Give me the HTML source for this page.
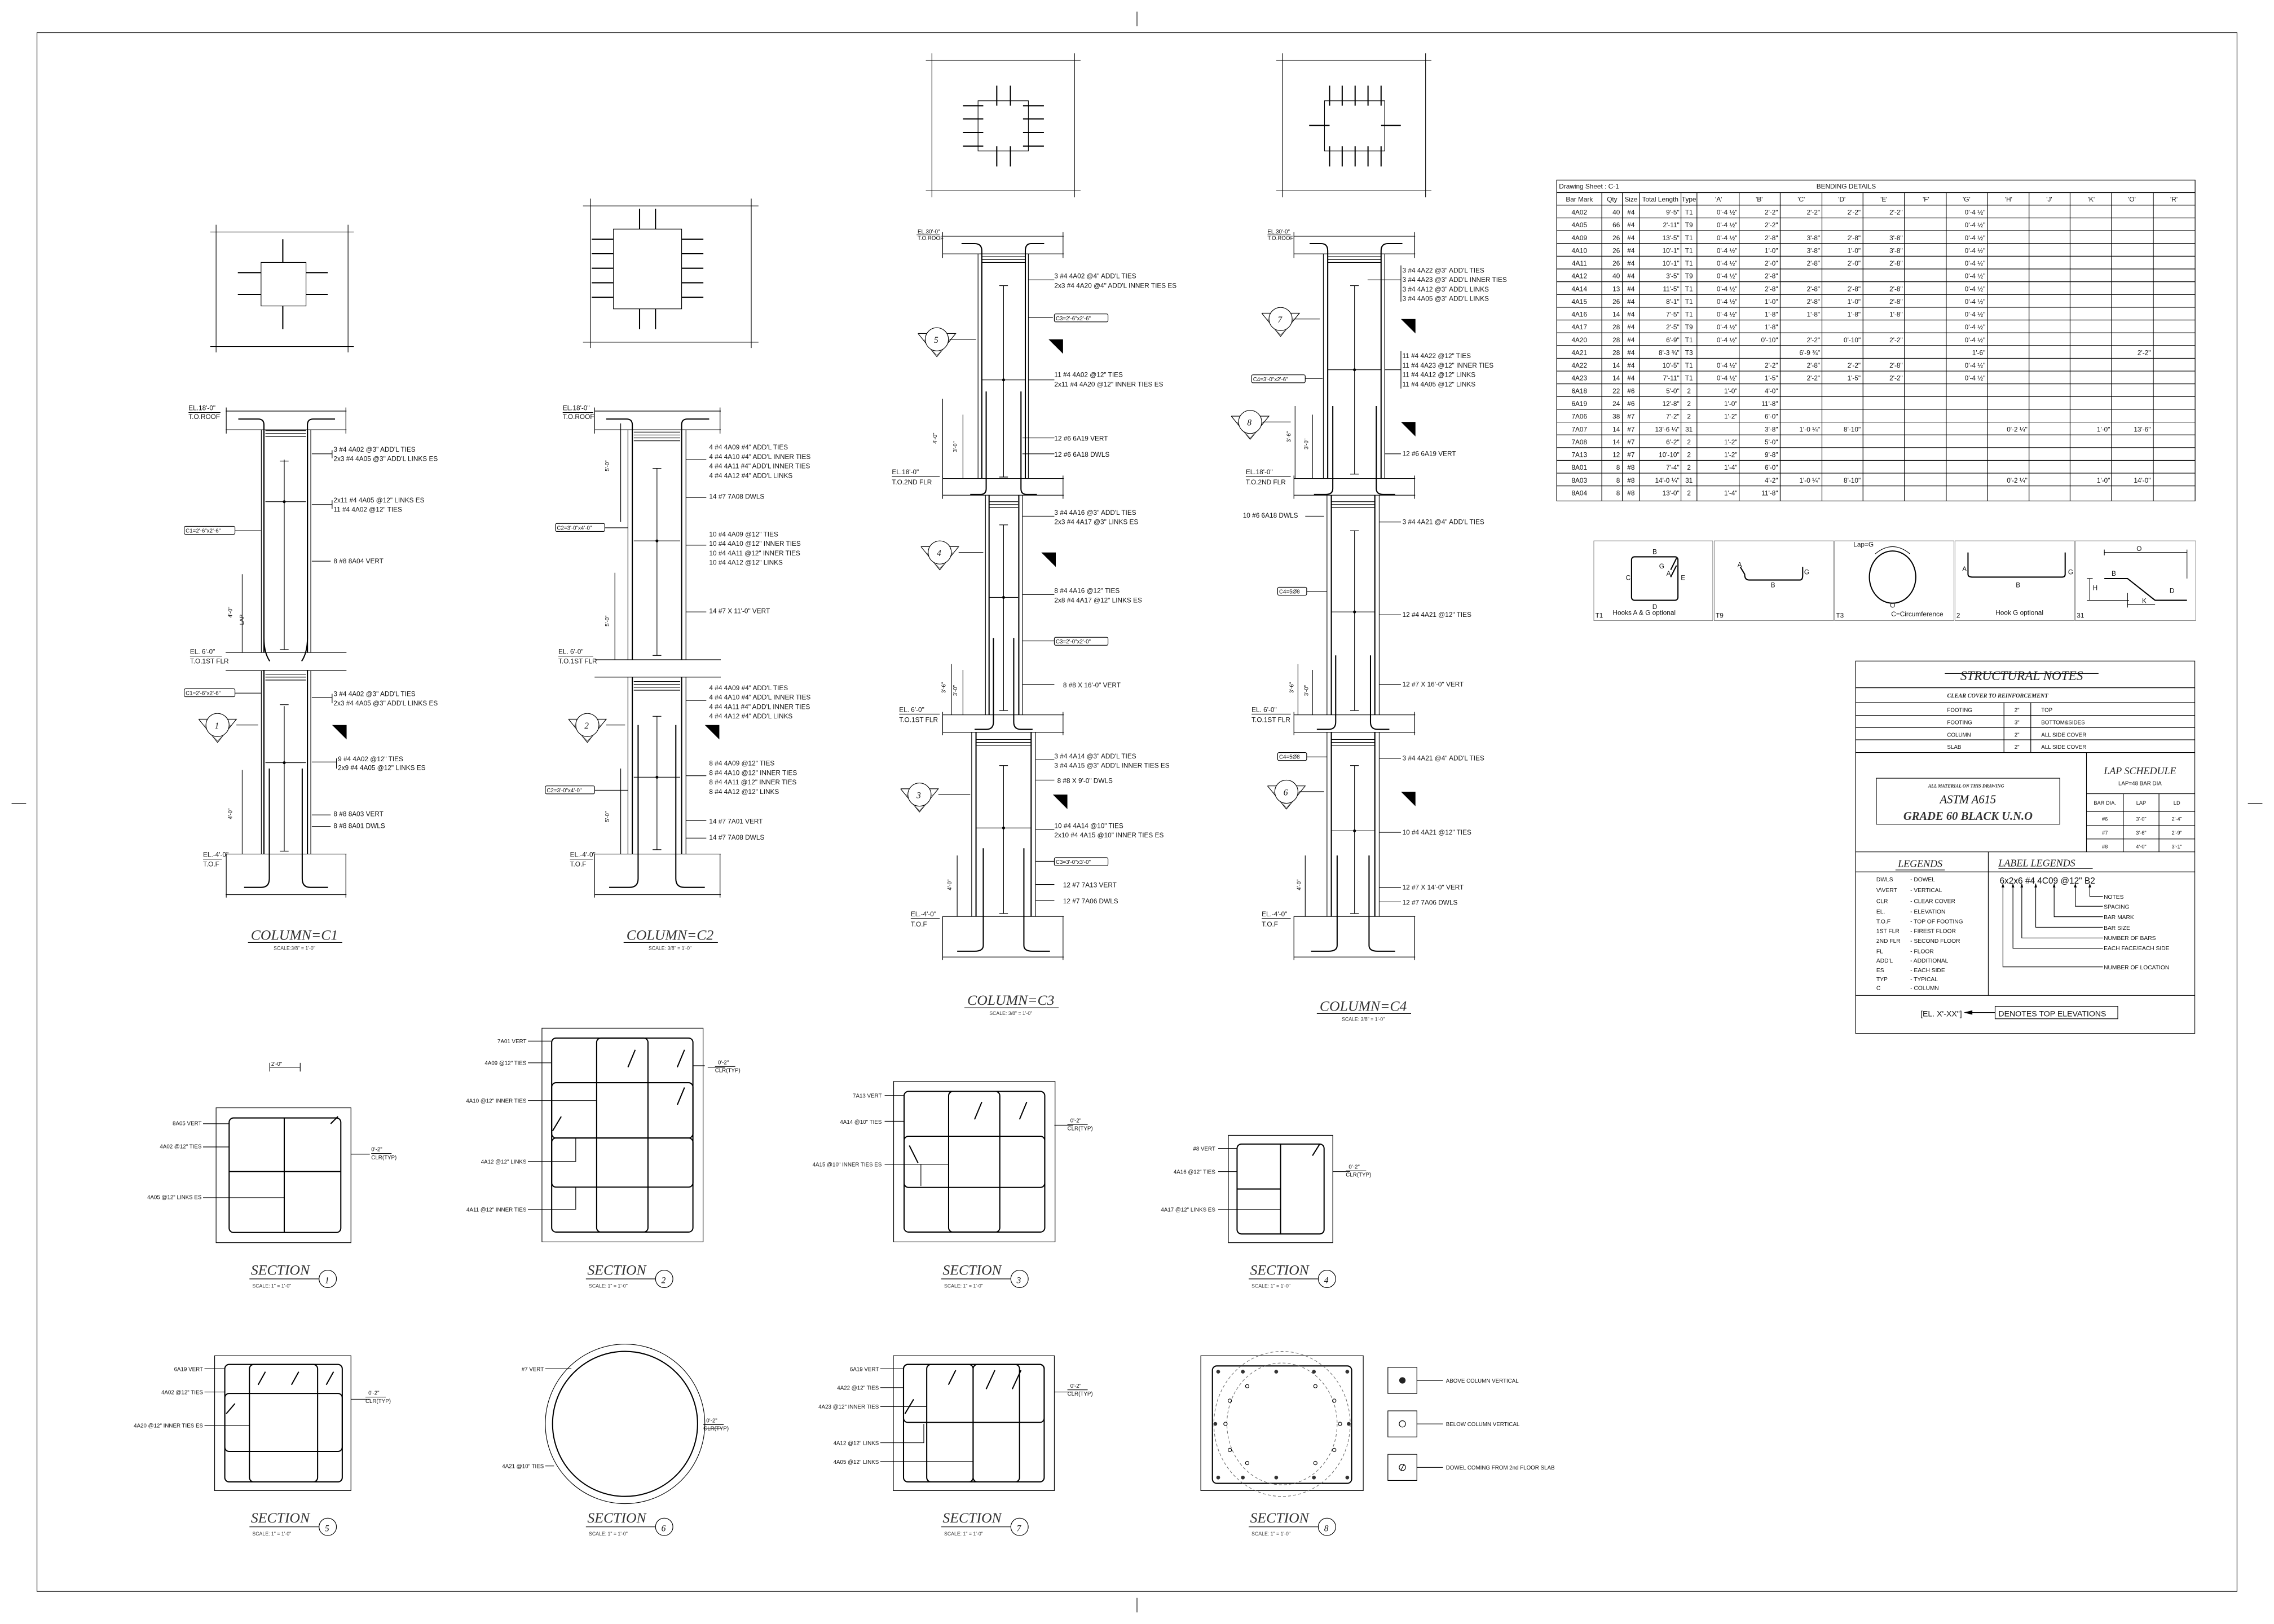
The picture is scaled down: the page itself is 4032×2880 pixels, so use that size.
<!DOCTYPE html>
<html><head><meta charset="utf-8">
<style>
html,body{margin:0;padding:0;background:#fff}
svg{display:block}
.l{stroke:#000;fill:none;stroke-width:.45}
.m{stroke:#000;fill:none;stroke-width:.8}
.h{stroke:#000;fill:none;stroke-width:1.2}
.g{stroke:#777;fill:none;stroke-width:.35}
.d{stroke:#666;fill:none;stroke-width:.4;stroke-dasharray:2 1.5}
text{font-family:"Liberation Sans",sans-serif;font-size:4.6px;fill:#111}
.s{font-size:3.8px}
.tt{font-family:"Liberation Serif",serif;font-style:italic;font-size:10px;fill:#333}
.st{font-size:3.4px;fill:#333}
.tb{font-family:"Liberation Sans Narrow","Liberation Sans",sans-serif;font-size:4.1px;fill:#222}
.sn{font-family:"Liberation Serif",serif;font-style:italic;font-weight:bold;fill:#222}
.n{font-family:"Liberation Serif",serif;font-style:italic;font-size:6px}
</style></head><body>
<svg width="4032" height="2880" viewBox="0 0 1568 1120" xmlns="http://www.w3.org/2000/svg">
<defs>
<g id="mk"><path class="l" d="M-13,-4 L-7,-4 M7,-4 L13,-4 L0,12 L-13,-4"/><path class="g" d="M-9,0 L-4,6 M9,0 L4,6 M-5,6 L0,11 L5,6"/><circle cx="0" cy="0" r="8" style="fill:#fff;stroke:#000;stroke-width:.45"/></g>
<polygon id="ft" points="0,0 10,0 10,10" fill="#000"/>
</defs>

<!-- border -->
<rect x="25.5" y="22.5" width="1517" height="1075" class="l"/>
<path class="l" d="M784,8V18 M784,1102V1112 M8,554H18 M1550,554H1560"/>

<!-- ===== C1 PLAN ===== -->
<path class="l" d="M145,160H244 M145,239H244 M149,155V243 M240,155V243"/>
<rect x="180" y="181" width="31" height="30" class="l"/>
<path class="m" d="M164,188H180 M164,203H180 M211,188H226 M211,203H226 M195,165V181 M195,211V227"/>
<!-- C1 ELEVATION -->
<path class="l" d="M155.6,283.5H238.9 M155.6,296.4H238.9 M156,281V299 M238.5,281V299"/>
<path class="m" d="M164.3,289H178Q182,289 182,293V450 M231,289H216Q212,289 212,293V450"/>
<path class="l" d="M180.2,296.4V450 M214.3,296.4V450 M180.2,462.5V589 M214.3,462.5V589"/>
<path class="l" d="M155.6,450H238.9 M155.6,462.5H238.9"/>
<path class="m" d="M182,462V589 M212,462V589 M182,297V440 Q182,450 186,456 M212,297V440Q212,450 208,456"/>
<path class="l" d="M183,297H211 M183,299H211 M183,301H211 M183,346H211 M183,465H211 M183,467H211 M183,469H211 M183,526H211"/>
<circle cx="196" cy="346" r="1" fill="#000"/><circle cx="196" cy="526" r="1" fill="#000"/>
<path class="l" d="M196,317V448 M193,318H199 M193,448H199 M196,487V587 M193,486H199 M193,587H199"/>
<path class="l" d="M155.6,589H238.9 M155.6,617H238.9 M156,589V619 M238.5,589V619"/>
<path class="m" d="M185.7,530V606Q185.7,612 180,612H168.3 M208.4,530V606Q208.4,612 214,612H226.2"/>
<path class="l" d="M167,396V450 M167,531V589"/>
<text x="160" y="426" transform="rotate(-90 160 426)" class="s">4'-0"</text><text x="163" y="426" transform="rotate(-90 168 426)" class="s">LAP</text>
<text x="160" y="565" transform="rotate(-90 160 565)" class="s">4'-0"</text>
<text x="130" y="283">EL.18'-0"</text><path class="l" d="M130,284.5H152"/><text x="130" y="289">T.O.ROOF</text>
<text x="131" y="451">EL. 6'-0"</text><path class="l" d="M131,452.5H153"/><text x="131" y="457.5">T.O.1ST FLR</text>
<text x="140" y="591">EL.-4'-0"</text><path class="l" d="M140,592.5H153"/><text x="140" y="597.5">T.O.F</text>
<rect x="127" y="363" width="35" height="5.5" class="l" rx="1"/><text x="128" y="367.3" class="s">C1=2'-6"x2'-6"</text><path class="l" d="M162,366H180"/>
<rect x="127" y="475" width="35" height="5.5" class="l" rx="1"/><text x="128" y="479.3" class="s">C1=2'-6"x2'-6"</text><path class="l" d="M162,478H180"/>
<use href="#mk" x="150" y="500"/><text x="148" y="502.5" class="n">1</text><path class="l" d="M163,500H178"/>
<use href="#ft" x="229" y="500"/>
<path class="l" d="M229,310.5V316 M215,313H229 M229,345V351 M215,348H229 M215,387H228 M229,478.5V485 M215,481H229 M232,523V530 M215,525.5H232 M215,562H228 M215,570H228"/>
<text x="230" y="311.5">3 #4 4A02 @3" ADD'L TIES</text><text x="230" y="318">2x3 #4 4A05 @3" ADD'L LINKS ES</text>
<text x="230" y="346.5">2x11 #4 4A05 @12" LINKS ES</text><text x="230" y="353">11 #4 4A02 @12" TIES</text>
<text x="230" y="388.5">8 #8 8A04  VERT</text>
<text x="230" y="480">3 #4 4A02 @3" ADD'L TIES</text><text x="230" y="486.5">2x3 #4 4A05 @3" ADD'L LINKS ES</text>
<text x="233" y="525">9 #4 4A02 @12" TIES</text><text x="233" y="531">2x9 #4 4A05 @12" LINKS ES</text>
<text x="230" y="563">8 #8 8A03  VERT</text><text x="230" y="571">8 #8 8A01  DWLS</text>
<text x="203" y="648" class="tt" text-anchor="middle">COLUMN=C1</text><path class="l" d="M171,650H236"/>
<text x="203" y="655" class="st" text-anchor="middle">SCALE:3/8" = 1'-0"</text>

<!-- ===== C2 PLAN ===== -->
<path class="l" d="M402,142H523 M402,236H523 M407,137V240 M518,137V240"/>
<rect x="423" y="158" width="47" height="55" class="l"/>
<path class="m" d="M408,165H423 M408,175H423 M408,185H423 M408,195H423 M408,205H423 M470,165H485 M470,175H485 M470,185H485 M470,195H485 M470,205H485 M441,144V158 M452,144V158 M441,213V227 M452,213V227"/>
<!-- C2 ELEVATION -->
<path class="l" d="M410,283.5H497 M410,296.4H497 M410,281V299 M496.5,281V299"/>
<path class="m" d="M418,289H432Q436,289 436,293V455 M489,289H474Q470,289 470,293V455"/>
<path class="l" d="M433,296.4V455 M473,296.4V455 M433,467V589 M473,467V589 M410,455H497 M410,467H497"/>
<path class="m" d="M436,467V589 M470,467V589"/>
<path class="l" d="M437,298H469 M437,300H469 M437,302H469 M437,304H469 M437,373H469 M437,470H469 M437,472H469 M437,474H469 M437,476H469 M437,536H469"/>
<circle cx="453" cy="373" r="1" fill="#000"/><circle cx="453" cy="536" r="1" fill="#000"/>
<path class="l" d="M453,323V452 M450,323H456 M450,452H456 M453,494V586 M450,494H456 M450,586H456"/>
<path class="l" d="M410,589H497 M410,617H497 M410,589V619 M496.5,589V619"/>
<path class="m" d="M440,500V606Q440,612 434,612H420 M466,500V606Q466,612 472,612H486"/>
<path class="l" d="M428,292V360 M424,395V455 M428,530V589"/>
<text x="420" y="325" transform="rotate(-90 420 325)" class="s">5'-0"</text>
<text x="420" y="432" transform="rotate(-90 420 432)" class="s">5'-0"</text>
<text x="420" y="567" transform="rotate(-90 420 567)" class="s">5'-0"</text>
<text x="388" y="283">EL.18'-0"</text><path class="l" d="M388,284.5H409"/><text x="388" y="289">T.O.ROOF</text>
<text x="385" y="451">EL. 6'-0"</text><path class="l" d="M385,452.5H409"/><text x="385" y="457.5">T.O.1ST FLR</text>
<text x="393" y="591">EL.-4'-0"</text><path class="l" d="M393,592.5H409"/><text x="393" y="597.5">T.O.F</text>
<rect x="383" y="361" width="34" height="5.5" class="l" rx="1"/><text x="384" y="365.3" class="s">C2=3'-0"x4'-0"</text><path class="l" d="M417,364H433"/>
<rect x="376" y="542" width="34" height="5.5" class="l" rx="1"/><text x="377" y="546.3" class="s">C2=3'-0"x4'-0"</text><path class="l" d="M410,545H433"/>
<use href="#mk" x="405" y="500"/><text x="403" y="502.5" class="n">2</text><path class="l" d="M418,500H431"/>
<use href="#ft" x="486" y="500"/>
<path class="l" d="M473,317H487 M473,376H487 M473,343H487 M473,422H487 M473,483H487 M473,535H487 M473,566H487 M473,578H487"/>
<text x="489" y="310">4 #4 4A09 #4" ADD'L TIES</text><text x="489" y="316.5">4 #4 4A10 #4" ADD'L INNER TIES</text><text x="489" y="323">4 #4 4A11 #4" ADD'L INNER TIES</text><text x="489" y="329.5">4 #4 4A12 #4" ADD'L LINKS</text>
<text x="489" y="344">14 #7 7A08  DWLS</text>
<text x="489" y="370">10 #4 4A09 @12" TIES</text><text x="489" y="376.5">10 #4 4A10 @12" INNER TIES</text><text x="489" y="383">10 #4 4A11 @12" INNER TIES</text><text x="489" y="389.5">10 #4 4A12 @12" LINKS</text>
<text x="489" y="423">14 #7 X 11'-0"  VERT</text>
<text x="489" y="476">4 #4 4A09 #4" ADD'L TIES</text><text x="489" y="482.5">4 #4 4A10 #4" ADD'L INNER TIES</text><text x="489" y="489">4 #4 4A11 #4" ADD'L INNER TIES</text><text x="489" y="495.5">4 #4 4A12 #4" ADD'L LINKS</text>
<text x="489" y="528">8 #4 4A09 @12" TIES</text><text x="489" y="534.5">8 #4 4A10 @12" INNER TIES</text><text x="489" y="541">8 #4 4A11 @12" INNER TIES</text><text x="489" y="547.5">8 #4 4A12 @12" LINKS</text>
<text x="489" y="568">14 #7 7A01  VERT</text><text x="489" y="579">14 #7 7A08  DWLS</text>
<text x="462" y="648" class="tt" text-anchor="middle">COLUMN=C2</text><path class="l" d="M430,650H495"/>
<text x="462" y="655" class="st" text-anchor="middle">SCALE: 3/8" = 1'-0"</text>

<!-- ===== C3 PLAN ===== -->
<path class="l" d="M638.4,41.6H745.1 M638.4,131.6H745.1 M642.6,36.7V136 M740.9,36.7V136"/>
<rect x="674.4" y="69.5" width="34.7" height="34.6" class="l"/>
<path class="m" d="M687.3,59V72.9 M696.7,59V72.9 M687.3,100.8V114.8 M696.7,100.8V114.8 M664,72.9H678 M664,82H678 M664,91.4H678 M664,100.8H678 M705.4,72.9H719.8 M705.4,82H719.8 M705.4,91.4H719.8 M705.4,100.8H719.8"/>
<!-- C3 ELEVATION -->
<path class="l" d="M650,162.9H733.5 M650,175.1H733.5 M650,160V178 M733,160V178"/>
<path class="m" d="M663,168H672Q677,168 677,173V330 M720,168H711Q707,168 707,173V330"/>
<path class="l" d="M674.4,175V330 M709.1,175V330 M650,330H733.5 M650,341.5H733.5 M650,328V344 M733,328V344"/>
<path class="l" d="M676.9,177H706.7 M676.9,179H706.7 M676.9,181H706.7 M676.9,262H706.7"/>
<circle cx="692" cy="262" r="1" fill="#000"/>
<path class="l" d="M692,197V329 M689,197H695 M689,329H695"/>
<path class="m" d="M680,270V337Q680,341 676,341H669 M704,270V337Q704,341 708,341H715"/>
<path class="l" d="M679.5,341.5V493 M705,341.5V493 M650,493H733.5 M650,505H733.5 M650,491V507 M733,491V507"/>
<path class="m" d="M682,341.5V493 M702.5,341.5V493"/>
<path class="l" d="M682,346H702 M682,348H702 M682,350H702 M682,412H702"/><circle cx="692" cy="412" r="1" fill="#000"/>
<path class="l" d="M692,362V490 M689,362H695 M689,490H695"/>
<path class="m" d="M685,440V498Q685,503 680,503H672 M699,440V498Q699,503 704,503H712"/>
<path class="l" d="M670,505V632 M714,505V632 M650,632H733.5 M650,660H733.5 M650,632V662 M733,632V662"/>
<path class="m" d="M673,505V632 M711,505V632"/>
<path class="l" d="M673,510H711 M673,512H711 M673,514H711 M673,571H711"/><circle cx="692" cy="571" r="1" fill="#000"/>
<path class="l" d="M692,528V630 M689,528H695 M689,630H695"/>
<path class="m" d="M678,585V652Q678,656 672,656H660 M706,585V652Q706,656 712,656H724"/>
<path class="l" d="M650,275V330 M664,286V330 M656,458V493 M664,462V493 M660,590V632"/>
<text x="646" y="306" transform="rotate(-90 646 306)" class="s">4'-0"</text><text x="660" y="312" transform="rotate(-90 660 312)" class="s">3'-0"</text>
<text x="652" y="478" transform="rotate(-90 652 478)" class="s">3'-6"</text><text x="660" y="480" transform="rotate(-90 660 480)" class="s">3'-0"</text>
<text x="656" y="614" transform="rotate(-90 656 614)" class="s">4'-0"</text>
<text x="632.7" y="161" class="s">EL.30'-0"</text><path class="l" d="M632,162H648"/><text x="632.7" y="165.5" class="s">T.O.ROOF</text>
<text x="615" y="327">EL.18'-0"</text><path class="l" d="M615,328.5H648"/><text x="615" y="334">T.O.2ND FLR</text>
<text x="620" y="491">EL. 6'-0"</text><path class="l" d="M620,492.5H648"/><text x="620" y="498">T.O.1ST FLR</text>
<text x="628" y="632">EL.-4'-0"</text><path class="l" d="M628,633.5H648"/><text x="628" y="639">T.O.F</text>
<use href="#mk" x="646" y="234"/><text x="644" y="236.5" class="n">5</text><path class="l" d="M655,234H673"/><use href="#ft" x="723" y="234"/>
<use href="#mk" x="648" y="381"/><text x="646" y="383.5" class="n">4</text><path class="l" d="M661,381H678"/><use href="#ft" x="718" y="381"/>
<use href="#mk" x="634" y="548"/><text x="632" y="550.5" class="n">3</text><path class="l" d="M647,548H669"/><use href="#ft" x="726" y="548"/>
<path class="l" d="M709,219H726 M709,193H727 M709,262H727 M705,302H727 M705,313H727 M705,356H727 M705,410H727 M705,442H727 M705,472H727 M714,524H727 M714,538H727 M714,572H727 M714,594H727 M714,610H727 M714,621H727"/>
<rect x="727" y="216.5" width="37" height="5.5" class="l" rx="1"/><text x="728" y="220.8" class="s">C3=2'-6"x2'-6"</text>
<text x="727" y="192">3 #4 4A02 @4" ADD'L TIES</text><text x="727" y="198.5">2x3 #4 4A20 @4" ADD'L INNER TIES ES</text>
<text x="727" y="260">11 #4 4A02 @12" TIES</text><text x="727" y="266.5">2x11 #4 4A20 @12" INNER TIES ES</text>
<text x="727" y="304">12 #6 6A19  VERT</text><text x="727" y="315">12 #6 6A18  DWLS</text>
<text x="727" y="355">3 #4 4A16 @3" ADD'L TIES</text><text x="727" y="361.5">2x3 #4 4A17 @3" LINKS ES</text>
<text x="727" y="409">8 #4 4A16 @12" TIES</text><text x="727" y="415.5">2x8 #4 4A17 @12" LINKS ES</text>
<rect x="727" y="439.5" width="37" height="5.5" class="l" rx="1"/><text x="728" y="443.8" class="s">C3=2'-0"x2'-0"</text>
<text x="733" y="474">8 #8 X 16'-0"  VERT</text>
<text x="727" y="523">3 #4 4A14 @3" ADD'L TIES</text><text x="727" y="529.5">3 #4 4A15 @3" ADD'L INNER TIES ES</text>
<text x="729" y="540">8 #8 X 9'-0"  DWLS</text>
<text x="727" y="571">10 #4 4A14 @10" TIES</text><text x="727" y="577.5">2x10 #4 4A15 @10" INNER TIES ES</text>
<rect x="727" y="591.5" width="37" height="5.5" class="l" rx="1"/><text x="728" y="595.8" class="s">C3=3'-0"x3'-0"</text>
<text x="733" y="612">12 #7 7A13  VERT</text><text x="733" y="623">12 #7 7A06  DWLS</text>
<text x="697" y="693" class="tt" text-anchor="middle">COLUMN=C3</text><path class="l" d="M665,695H730"/>
<text x="697" y="700" class="st" text-anchor="middle">SCALE: 3/8" = 1'-0"</text>

<!-- ===== C4 PLAN ===== -->
<path class="l" d="M880,41.6H987 M880,131.6H987 M884.5,36.7V136 M983,36.7V136"/>
<rect x="913.3" y="69.5" width="41.5" height="34.6" class="l"/>
<path class="m" d="M916.8,59V72.9 M925.5,59V72.9 M934.4,59V72.9 M943.3,59V72.9 M952.3,59V72.9 M916.8,100.8V114.8 M925.5,100.8V114.8 M934.4,100.8V114.8 M943.3,100.8V114.8 M952.3,100.8V114.8 M902.7,86.5H916.8 M952.3,86.5H965.9"/>
<!-- C4 ELEVATION -->
<path class="l" d="M892.2,162.9H975.8 M892.2,175.1H975.8 M892.2,160V178 M975.5,160V178"/>
<path class="m" d="M903,168H911Q915.5,168 915.5,173V330 M967,168H957Q952.3,168 952.3,173V330"/>
<path class="l" d="M912.5,175V330 M954.8,175V330 M892.2,330H975.8 M892.2,341.5H975.8 M892.2,328V344 M975.5,328V344"/>
<path class="l" d="M915.5,177H952.3 M915.5,179H952.3 M915.5,181H952.3 M915.5,255H952.3"/><circle cx="934" cy="255" r="1" fill="#000"/>
<path class="l" d="M934,197V327 M931,197H937 M931,327H937"/>
<path class="m" d="M919,280V337Q919,341 914,341H906 M949,280V337Q949,341 954,341H962"/>
<path class="l" d="M915,341.5V493 M951,341.5V493 M892.2,493H975.8 M892.2,505H975.8 M892.2,491V507 M975.5,491V507"/>
<path class="m" d="M918,341.5V493 M948,341.5V493"/>
<path class="l" d="M918,346H948 M918,348H948 M918,350H948 M918,422H948"/><circle cx="934" cy="422" r="1" fill="#000"/>
<path class="l" d="M934,366V490 M931,366H937 M931,490H937"/>
<path class="m" d="M921,452V498Q921,503 916,503H908 M945,452V498Q945,503 950,503H958"/>
<path class="l" d="M915,505V632 M951,505V632 M892.2,632H975.8 M892.2,660H975.8 M892.2,632V662 M975.5,632V662"/>
<path class="m" d="M918,505V632 M948,505V632"/>
<path class="l" d="M918,510H948 M918,512H948 M918,514H948 M918,573H948"/><circle cx="934" cy="573" r="1" fill="#000"/>
<path class="l" d="M934,528V630 M931,528H937 M931,630H937"/>
<path class="m" d="M922,590V652Q922,656 916,656H904 M944,590V652Q944,656 950,656H962"/>
<path class="l" d="M893,280V330 M905,286V330 M895,458V493 M905,462V493 M900,590V632"/>
<text x="890" y="305" transform="rotate(-90 890 305)" class="s">3'-6"</text><text x="902" y="310" transform="rotate(-90 902 310)" class="s">3'-0"</text>
<text x="892" y="478" transform="rotate(-90 892 478)" class="s">3'-6"</text><text x="902" y="480" transform="rotate(-90 902 480)" class="s">3'-0"</text>
<text x="897" y="614" transform="rotate(-90 897 614)" class="s">4'-0"</text>
<text x="874" y="161" class="s">EL.30'-0"</text><path class="l" d="M874,162H890"/><text x="874" y="165.5" class="s">T.O.ROOF</text>
<text x="859" y="327">EL.18'-0"</text><path class="l" d="M859,328.5H890"/><text x="859" y="334">T.O.2ND FLR</text>
<text x="863" y="491">EL. 6'-0"</text><path class="l" d="M863,492.5H890"/><text x="863" y="498">T.O.1ST FLR</text>
<text x="870" y="632">EL.-4'-0"</text><path class="l" d="M870,633.5H890"/><text x="870" y="639">T.O.F</text>
<use href="#mk" x="883" y="220"/><text x="881" y="222.5" class="n">7</text><path class="l" d="M892,220H910"/><use href="#ft" x="966" y="220"/>
<use href="#mk" x="862" y="291"/><text x="860" y="293.5" class="n">8</text><path class="l" d="M871,291H890"/><use href="#ft" x="966" y="291"/>
<use href="#mk" x="887" y="546"/><text x="885" y="548.5" class="n">6</text><path class="l" d="M896,546H913"/><use href="#ft" x="966" y="546"/>
<rect x="863" y="258.5" width="37" height="5.5" class="l" rx="1"/><text x="864" y="262.8" class="s">C4=3'-0"x2'-6"</text><path class="l" d="M900,261H912"/>
<rect x="881" y="405" width="20" height="5.5" class="l" rx="1"/><text x="882" y="409.3" class="s">C4=5Ø8</text><path class="l" d="M901,408H915"/>
<rect x="881" y="519" width="20" height="5.5" class="l" rx="1"/><text x="882" y="523.3" class="s">C4=5Ø8</text><path class="l" d="M901,522H915"/>
<path class="l" d="M966,183V208 M943,193H966 M966,242V268 M955,255H966 M955,313H966 M951,360H966 M951,424H966 M951,472H966 M951,523H966 M951,574H966 M951,612H966 M951,622H966 M900,356H913"/>
<text x="967" y="188">3 #4 4A22 @3" ADD'L TIES</text><text x="967" y="194.5">3 #4 4A23 @3" ADD'L  INNER TIES</text><text x="967" y="201">3 #4 4A12 @3" ADD'L LINKS</text><text x="967" y="207.5">3 #4 4A05 @3" ADD'L LINKS</text>
<text x="967" y="247">11 #4 4A22 @12" TIES</text><text x="967" y="253.5">11 #4 4A23 @12" INNER TIES</text><text x="967" y="260">11 #4 4A12 @12" LINKS</text><text x="967" y="266.5">11 #4 4A05 @12" LINKS</text>
<text x="967" y="314.5">12 #6 6A19  VERT</text>
<text x="857" y="357">10 #6 6A18  DWLS</text>
<text x="967" y="361.5">3 #4 4A21 @4" ADD'L TIES</text>
<text x="967" y="425.5">12 #4 4A21 @12" TIES</text>
<text x="967" y="473.5">12 #7 X 16'-0"  VERT</text>
<text x="967" y="524.5">3 #4 4A21 @4" ADD'L TIES</text>
<text x="967" y="575.5">10 #4 4A21 @12" TIES</text>
<text x="967" y="613.5">12 #7 X 14'-0"  VERT</text><text x="967" y="624">12 #7 7A06  DWLS</text>
<text x="940" y="697" class="tt" text-anchor="middle">COLUMN=C4</text><path class="l" d="M908,699H973"/>
<text x="940" y="704" class="st" text-anchor="middle">SCALE: 3/8" = 1'-0"</text>

<!-- ===== BENDING TABLE ===== -->
<g class="l">
<rect x="1073.4" y="124.2" width="440.2" height="221.3"/>
<path d="M1073.4,132.8H1513.6 M1073.4,141.5H1513.6 M1073.4,150.3H1513.6 M1073.4,159.1H1513.6 M1073.4,167.9H1513.6 M1073.4,176.7H1513.6 M1073.4,185.5H1513.6 M1073.4,194.3H1513.6 M1073.4,203.1H1513.6 M1073.4,211.9H1513.6 M1073.4,220.7H1513.6 M1073.4,229.5H1513.6 M1073.4,238.3H1513.6 M1073.4,247.1H1513.6 M1073.4,255.9H1513.6 M1073.4,264.7H1513.6 M1073.4,273.5H1513.6 M1073.4,282.3H1513.6 M1073.4,291.1H1513.6 M1073.4,299.9H1513.6 M1073.4,308.7H1513.6 M1073.4,317.5H1513.6 M1073.4,326.3H1513.6 M1073.4,335.1H1513.6"/>
<path d="M1104.5,132.8V345.5 M1118.7,132.8V345.5 M1130.6,132.8V345.5 M1159.1,132.8V345.5 M1170.1,132.8V345.5 M1199.2,132.8V345.5 M1227.5,132.8V345.5 M1256.3,132.8V345.5 M1284.6,132.8V345.5 M1313.2,132.8V345.5 M1342,132.8V345.5 M1370.3,132.8V345.5 M1399.1,132.8V345.5 M1427.4,132.8V345.5 M1456,132.8V345.5 M1484.8,132.8V345.5"/>
</g>
<g class="tb">
<text x="1075" y="130">Drawing Sheet : C-1</text><text x="1273" y="130" text-anchor="middle">BENDING DETAILS</text>
<text x="1089" y="139" text-anchor="middle">Bar Mark</text><text x="1111.6" y="139" text-anchor="middle">Qty</text><text x="1124.6" y="139" text-anchor="middle">Size</text><text x="1144.8" y="139" text-anchor="middle">Total Length</text><text x="1164.6" y="139" text-anchor="middle">Type</text>
<text x="1185" y="139" text-anchor="middle">'A'</text><text x="1213" y="139" text-anchor="middle">'B'</text><text x="1242" y="139" text-anchor="middle">'C'</text><text x="1270" y="139" text-anchor="middle">'D'</text><text x="1299" y="139" text-anchor="middle">'E'</text><text x="1328" y="139" text-anchor="middle">'F'</text><text x="1356" y="139" text-anchor="middle">'G'</text><text x="1385" y="139" text-anchor="middle">'H'</text><text x="1413" y="139" text-anchor="middle">'J'</text><text x="1442" y="139" text-anchor="middle">'K'</text><text x="1470" y="139" text-anchor="middle">'O'</text><text x="1499" y="139" text-anchor="middle">'R'</text>
</g>
<g class="tb">
<g text-anchor="middle"><text x="1089" y="148">4A02</text><text x="1089" y="156.8">4A05</text><text x="1089" y="165.6">4A09</text><text x="1089" y="174.4">4A10</text><text x="1089" y="183.2">4A11</text><text x="1089" y="192">4A12</text><text x="1089" y="200.8">4A14</text><text x="1089" y="209.6">4A15</text><text x="1089" y="218.4">4A16</text><text x="1089" y="227.2">4A17</text><text x="1089" y="236">4A20</text><text x="1089" y="244.8">4A21</text><text x="1089" y="253.6">4A22</text><text x="1089" y="262.4">4A23</text><text x="1089" y="271.2">6A18</text><text x="1089" y="280">6A19</text><text x="1089" y="288.8">7A06</text><text x="1089" y="297.6">7A07</text><text x="1089" y="306.4">7A08</text><text x="1089" y="315.2">7A13</text><text x="1089" y="324">8A01</text><text x="1089" y="332.8">8A03</text><text x="1089" y="341.6">8A04</text></g>
<g text-anchor="end"><text x="1117" y="148">40</text><text x="1117" y="156.8">66</text><text x="1117" y="165.6">26</text><text x="1117" y="174.4">26</text><text x="1117" y="183.2">26</text><text x="1117" y="192">40</text><text x="1117" y="200.8">13</text><text x="1117" y="209.6">26</text><text x="1117" y="218.4">14</text><text x="1117" y="227.2">28</text><text x="1117" y="236">28</text><text x="1117" y="244.8">28</text><text x="1117" y="253.6">14</text><text x="1117" y="262.4">14</text><text x="1117" y="271.2">22</text><text x="1117" y="280">24</text><text x="1117" y="288.8">38</text><text x="1117" y="297.6">14</text><text x="1117" y="306.4">14</text><text x="1117" y="315.2">12</text><text x="1117" y="324">8</text><text x="1117" y="332.8">8</text><text x="1117" y="341.6">8</text></g>
<g text-anchor="middle"><text x="1124.6" y="148">#4</text><text x="1124.6" y="156.8">#4</text><text x="1124.6" y="165.6">#4</text><text x="1124.6" y="174.4">#4</text><text x="1124.6" y="183.2">#4</text><text x="1124.6" y="192">#4</text><text x="1124.6" y="200.8">#4</text><text x="1124.6" y="209.6">#4</text><text x="1124.6" y="218.4">#4</text><text x="1124.6" y="227.2">#4</text><text x="1124.6" y="236">#4</text><text x="1124.6" y="244.8">#4</text><text x="1124.6" y="253.6">#4</text><text x="1124.6" y="262.4">#4</text><text x="1124.6" y="271.2">#6</text><text x="1124.6" y="280">#6</text><text x="1124.6" y="288.8">#7</text><text x="1124.6" y="297.6">#7</text><text x="1124.6" y="306.4">#7</text><text x="1124.6" y="315.2">#7</text><text x="1124.6" y="324">#8</text><text x="1124.6" y="332.8">#8</text><text x="1124.6" y="341.6">#8</text></g>
<g text-anchor="end"><text x="1158" y="148">9'-5"</text><text x="1158" y="156.8">2'-11"</text><text x="1158" y="165.6">13'-5"</text><text x="1158" y="174.4">10'-1"</text><text x="1158" y="183.2">10'-1"</text><text x="1158" y="192">3'-5"</text><text x="1158" y="200.8">11'-5"</text><text x="1158" y="209.6">8'-1"</text><text x="1158" y="218.4">7'-5"</text><text x="1158" y="227.2">2'-5"</text><text x="1158" y="236">6'-9"</text><text x="1158" y="244.8">8'-3 ¾"</text><text x="1158" y="253.6">10'-5"</text><text x="1158" y="262.4">7'-11"</text><text x="1158" y="271.2">5'-0"</text><text x="1158" y="280">12'-8"</text><text x="1158" y="288.8">7'-2"</text><text x="1158" y="297.6">13'-6 ¼"</text><text x="1158" y="306.4">6'-2"</text><text x="1158" y="315.2">10'-10"</text><text x="1158" y="324">7'-4"</text><text x="1158" y="332.8">14'-0 ¼"</text><text x="1158" y="341.6">13'-0"</text></g>
<g text-anchor="middle"><text x="1164.6" y="148">T1</text><text x="1164.6" y="156.8">T9</text><text x="1164.6" y="165.6">T1</text><text x="1164.6" y="174.4">T1</text><text x="1164.6" y="183.2">T1</text><text x="1164.6" y="192">T9</text><text x="1164.6" y="200.8">T1</text><text x="1164.6" y="209.6">T1</text><text x="1164.6" y="218.4">T1</text><text x="1164.6" y="227.2">T9</text><text x="1164.6" y="236">T1</text><text x="1164.6" y="244.8">T3</text><text x="1164.6" y="253.6">T1</text><text x="1164.6" y="262.4">T1</text><text x="1164.6" y="271.2">2</text><text x="1164.6" y="280">2</text><text x="1164.6" y="288.8">2</text><text x="1164.6" y="297.6">31</text><text x="1164.6" y="306.4">2</text><text x="1164.6" y="315.2">2</text><text x="1164.6" y="324">2</text><text x="1164.6" y="332.8">31</text><text x="1164.6" y="341.6">2</text></g>
<g text-anchor="end">
<text x="1198" y="148">0'-4 ½"</text><text x="1198" y="156.8">0'-4 ½"</text><text x="1198" y="165.6">0'-4 ½"</text><text x="1198" y="174.4">0'-4 ½"</text><text x="1198" y="183.2">0'-4 ½"</text><text x="1198" y="192">0'-4 ½"</text><text x="1198" y="200.8">0'-4 ½"</text><text x="1198" y="209.6">0'-4 ½"</text><text x="1198" y="218.4">0'-4 ½"</text><text x="1198" y="227.2">0'-4 ½"</text><text x="1198" y="236">0'-4 ½"</text><text x="1198" y="253.6">0'-4 ½"</text><text x="1198" y="262.4">0'-4 ½"</text><text x="1198" y="271.2">1'-0"</text><text x="1198" y="280">1'-0"</text><text x="1198" y="288.8">1'-2"</text><text x="1198" y="306.4">1'-2"</text><text x="1198" y="315.2">1'-2"</text><text x="1198" y="324">1'-4"</text><text x="1198" y="341.6">1'-4"</text>
<text x="1226" y="148">2'-2"</text><text x="1226" y="156.8">2'-2"</text><text x="1226" y="165.6">2'-8"</text><text x="1226" y="174.4">1'-0"</text><text x="1226" y="183.2">2'-0"</text><text x="1226" y="192">2'-8"</text><text x="1226" y="200.8">2'-8"</text><text x="1226" y="209.6">1'-0"</text><text x="1226" y="218.4">1'-8"</text><text x="1226" y="227.2">1'-8"</text><text x="1226" y="236">0'-10"</text><text x="1226" y="253.6">2'-2"</text><text x="1226" y="262.4">1'-5"</text><text x="1226" y="271.2">4'-0"</text><text x="1226" y="280">11'-8"</text><text x="1226" y="288.8">6'-0"</text><text x="1226" y="297.6">3'-8"</text><text x="1226" y="306.4">5'-0"</text><text x="1226" y="315.2">9'-8"</text><text x="1226" y="324">6'-0"</text><text x="1226" y="332.8">4'-2"</text><text x="1226" y="341.6">11'-8"</text>
<text x="1255" y="148">2'-2"</text><text x="1255" y="165.6">3'-8"</text><text x="1255" y="174.4">3'-8"</text><text x="1255" y="183.2">2'-8"</text><text x="1255" y="200.8">2'-8"</text><text x="1255" y="209.6">2'-8"</text><text x="1255" y="218.4">1'-8"</text><text x="1255" y="236">2'-2"</text><text x="1255" y="244.8">6'-9 ¾"</text><text x="1255" y="253.6">2'-8"</text><text x="1255" y="262.4">2'-2"</text><text x="1255" y="297.6">1'-0 ¼"</text><text x="1255" y="332.8">1'-0 ¼"</text>
<text x="1283" y="148">2'-2"</text><text x="1283" y="165.6">2'-8"</text><text x="1283" y="174.4">1'-0"</text><text x="1283" y="183.2">2'-0"</text><text x="1283" y="200.8">2'-8"</text><text x="1283" y="209.6">1'-0"</text><text x="1283" y="218.4">1'-8"</text><text x="1283" y="236">0'-10"</text><text x="1283" y="253.6">2'-2"</text><text x="1283" y="262.4">1'-5"</text><text x="1283" y="297.6">8'-10"</text><text x="1283" y="332.8">8'-10"</text>
<text x="1312" y="148">2'-2"</text><text x="1312" y="165.6">3'-8"</text><text x="1312" y="174.4">3'-8"</text><text x="1312" y="183.2">2'-8"</text><text x="1312" y="200.8">2'-8"</text><text x="1312" y="209.6">2'-8"</text><text x="1312" y="218.4">1'-8"</text><text x="1312" y="236">2'-2"</text><text x="1312" y="253.6">2'-8"</text><text x="1312" y="262.4">2'-2"</text>
<text x="1369" y="148">0'-4 ½"</text><text x="1369" y="156.8">0'-4 ½"</text><text x="1369" y="165.6">0'-4 ½"</text><text x="1369" y="174.4">0'-4 ½"</text><text x="1369" y="183.2">0'-4 ½"</text><text x="1369" y="192">0'-4 ½"</text><text x="1369" y="200.8">0'-4 ½"</text><text x="1369" y="209.6">0'-4 ½"</text><text x="1369" y="218.4">0'-4 ½"</text><text x="1369" y="227.2">0'-4 ½"</text><text x="1369" y="236">0'-4 ½"</text><text x="1369" y="244.8">1'-6"</text><text x="1369" y="253.6">0'-4 ½"</text><text x="1369" y="262.4">0'-4 ½"</text>
<text x="1398" y="297.6">0'-2 ¼"</text><text x="1398" y="332.8">0'-2 ¼"</text>
<text x="1455" y="297.6">1'-0"</text><text x="1455" y="332.8">1'-0"</text>
<text x="1483" y="244.8">2'-2"</text><text x="1483" y="297.6">13'-6"</text><text x="1483" y="332.8">14'-0"</text>
</g>
</g>

<!-- ===== BAR SHAPES ===== -->
<g class="g"><rect x="1099" y="373" width="82" height="55"/><rect x="1182" y="373" width="82.3" height="55"/><rect x="1265" y="373" width="82.3" height="55"/><rect x="1348" y="373" width="82.4" height="55"/><rect x="1431" y="373" width="83" height="55"/></g>
<g class="m"><rect x="1125" y="384" width="32" height="30" rx="2"/><path d="M1152,393L1156,385 M1152,398L1156,390"/>
<path d="M1200,391L1203,396Q1203,400 1206,400H1241Q1243,400 1243,397V391"/>
<ellipse cx="1305" cy="398" rx="16" ry="18"/><path class="l" d="M1293,382Q1305,372 1317,382"/>
<path d="M1357,381V396Q1357,398 1360,398H1422Q1424,398 1424,396V381"/>
<path d="M1451,399H1467L1486,414H1508"/></g>
<path class="l" d="M1451,381H1508 M1451,379V383 M1508,379V399 M1441,399V414 M1439,399H1443 M1439,414H1468 M1467,409V419 M1467,417H1486"/>
<g class="tb" style="font-size:3.5px"><text x="1141" y="382" text-anchor="middle">B</text><text x="1141" y="420" text-anchor="middle">D</text><text x="1121" y="400">C</text><text x="1159" y="400">E</text><text x="1144" y="392">G</text><text x="1149" y="397">A</text>
<text x="1198" y="391">A</text><text x="1244" y="396">G</text><text x="1221" y="405">B</text><text x="1305" y="419" text-anchor="middle">O</text><text x="1322" y="425" text-anchor="middle">C=Circumference</text><text x="1278" y="377">Lap=G</text>
<text x="1353" y="394">A</text><text x="1426" y="396">G</text><text x="1390" y="405">B</text><text x="1376" y="424">Hook G optional</text>
<text x="1475" y="380" text-anchor="middle">O</text><text x="1456" y="397">B</text><text x="1443" y="407">H</text><text x="1496" y="409">D</text><text x="1477" y="416">K</text>
<text x="1112" y="424">Hooks A &amp; G optional</text></g>
<g class="tb" style="font-size:9px;fill:#555"><text x="1100" y="426">T1</text><text x="1183" y="426">T9</text><text x="1266" y="426">T3</text><text x="1349" y="426">2</text><text x="1432" y="426">31</text></g>

<!-- ===== STRUCTURAL NOTES ===== -->
<g class="l">
<rect x="1279.5" y="455.9" width="233.9" height="256.8"/>
<path d="M1279.5,474.3H1513.4 M1279.5,484.6H1513.4 M1279.5,493.4H1513.4 M1279.5,501.8H1513.4 M1279.5,510.2H1513.4 M1279.5,519H1513.4 M1381.8,484.6V519 M1400.3,484.6V519"/>
<path d="M1438.7,519V587.5 M1438.7,547.4H1513.4 M1438.7,559.7H1513.4 M1438.7,569.3H1513.4 M1438.7,578.6H1513.4 M1464.1,547.4V587.5 M1488.7,547.4V587.5"/>
<rect x="1293.8" y="536.7" width="126.5" height="31.7"/>
<path d="M1279.5,587.5H1513.4 M1279.5,601.3H1513.4 M1371,587.5V686.5 M1279.5,686.5H1513.4"/>
<path d="M1341,464.5H1447 M1307,600H1341 M1378,599H1443"/>
<path d="M1381.1,611V666.8H1450 M1388,611V654H1450 M1394.1,611V646.9H1450 M1403.7,611V639.5H1450 M1416.4,611V632.2H1450 M1431,611V625H1450 M1441,611V618.2H1450"/>
<rect x="1375.7" y="694" width="84.6" height="8.6"/>
<path d="M1358,698.3H1375.7"/>
</g>
<polygon points="1354,698.3 1360,696.8 1360,699.8" fill="#000"/>
<g fill="#000"><polygon points="1381.1,609 1380.2,612 1382,612"/><polygon points="1388,609 1387.1,612 1388.9,612"/><polygon points="1394.1,609 1393.2,612 1395,612"/><polygon points="1403.7,609 1402.8,612 1404.6,612"/><polygon points="1416.4,609 1415.5,612 1417.3,612"/><polygon points="1431,609 1430.1,612 1431.9,612"/><polygon points="1441,609 1440.1,612 1441.9,612"/></g>
<text x="1394" y="469" class="sn" style="font-size:9px;font-weight:normal" text-anchor="middle">STRUCTURAL NOTES</text>
<text x="1342.6" y="481" class="sn" style="font-size:4px">CLEAR COVER TO REINFORCEMENT</text>
<g style="font-size:3.8px"><text x="1342.6" y="491" style="font-size:3.8px">FOOTING</text><text x="1342.6" y="499.5" style="font-size:3.8px">FOOTING</text><text x="1342.6" y="508" style="font-size:3.8px">COLUMN</text><text x="1342.6" y="516.5" style="font-size:3.8px">SLAB</text>
<text x="1389" y="491" style="font-size:3.8px">2"</text><text x="1389" y="499.5" style="font-size:3.8px">3"</text><text x="1389" y="508" style="font-size:3.8px">2"</text><text x="1389" y="516.5" style="font-size:3.8px">2"</text>
<text x="1407.5" y="491" style="font-size:3.8px">TOP</text><text x="1407.5" y="499.5" style="font-size:3.8px">BOTTOM&amp;SIDES</text><text x="1407.5" y="508" style="font-size:3.8px">ALL SIDE COVER</text><text x="1407.5" y="516.5" style="font-size:3.8px">ALL SIDE COVER</text></g>
<text x="1475.6" y="534" class="sn" style="font-size:7px;font-weight:normal" text-anchor="middle">LAP SCHEDULE</text>
<text x="1475.6" y="541.5" text-anchor="middle" style="font-size:3.8px">LAP=48 BAR DIA</text>
<g text-anchor="middle"><text x="1451.4" y="555" style="font-size:3.6px">BAR DIA.</text><text x="1476.4" y="555" style="font-size:3.6px">LAP</text><text x="1501" y="555" style="font-size:3.6px">LD</text>
<text x="1451.4" y="566" style="font-size:3.6px">#6</text><text x="1476.4" y="566" style="font-size:3.6px">3'-0"</text><text x="1501" y="566" style="font-size:3.6px">2'-4"</text>
<text x="1451.4" y="575.5" style="font-size:3.6px">#7</text><text x="1476.4" y="575.5" style="font-size:3.6px">3'-6"</text><text x="1501" y="575.5" style="font-size:3.6px">2'-9"</text>
<text x="1451.4" y="585" style="font-size:3.6px">#8</text><text x="1476.4" y="585" style="font-size:3.6px">4'-0"</text><text x="1501" y="585" style="font-size:3.6px">3'-1"</text></g>
<text x="1355.7" y="543" class="sn" style="font-size:3.2px" text-anchor="middle">ALL MATERIAL ON THIS DRAWING</text>
<text x="1357" y="554" style="font-family:'Liberation Serif',serif;font-style:italic;font-size:8px" text-anchor="middle">ASTM  A615</text>
<text x="1357" y="565.5" style="font-family:'Liberation Serif',serif;font-style:italic;font-weight:bold;font-size:8px;fill:#333" text-anchor="middle">GRADE  60  BLACK  U.N.O</text>
<text x="1324" y="598" class="sn" style="font-size:7px;font-weight:normal" text-anchor="middle">LEGENDS</text>
<text x="1378" y="597.5" class="sn" style="font-size:7px;font-weight:normal">LABEL LEGENDS</text>
<g class="lg">
<text x="1293.8" y="607.9" style="font-size:4px">DWLS</text><text x="1293.8" y="615.2" style="font-size:4px">V\VERT</text><text x="1293.8" y="622.8" style="font-size:4px">CLR</text><text x="1293.8" y="630" style="font-size:4px">EL.</text><text x="1293.8" y="636.8" style="font-size:4px">T.O.F</text><text x="1293.8" y="643.5" style="font-size:4px">1ST FLR</text><text x="1293.8" y="650.3" style="font-size:4px">2ND FLR</text><text x="1293.8" y="657.4" style="font-size:4px">FL</text><text x="1293.8" y="663.8" style="font-size:4px">ADD'L</text><text x="1293.8" y="670.5" style="font-size:4px">ES</text><text x="1293.8" y="676.7" style="font-size:4px">TYP</text><text x="1293.8" y="682.6" style="font-size:4px">C</text>
<text x="1317.2" y="607.9" style="font-size:4px">- DOWEL</text><text x="1317.2" y="615.2" style="font-size:4px">- VERTICAL</text><text x="1317.2" y="622.8" style="font-size:4px">- CLEAR COVER</text><text x="1317.2" y="630" style="font-size:4px">- ELEVATION</text><text x="1317.2" y="636.8" style="font-size:4px">- TOP OF FOOTING</text><text x="1317.2" y="643.5" style="font-size:4px">- FIREST FLOOR</text><text x="1317.2" y="650.3" style="font-size:4px">- SECOND FLOOR</text><text x="1317.2" y="657.4" style="font-size:4px">- FLOOR</text><text x="1317.2" y="663.8" style="font-size:4px">- ADDITIONAL</text><text x="1317.2" y="670.5" style="font-size:4px">- EACH SIDE</text><text x="1317.2" y="676.7" style="font-size:4px">- TYPICAL</text><text x="1317.2" y="682.6" style="font-size:4px">- COLUMN</text>
<text x="1450.6" y="619.9" style="font-size:4px">NOTES</text><text x="1450.6" y="626.7" style="font-size:4px">SPACING</text><text x="1450.6" y="633.9" style="font-size:4px">BAR MARK</text><text x="1450.6" y="641.2" style="font-size:4px">BAR SIZE</text><text x="1450.6" y="648.3" style="font-size:4px">NUMBER OF BARS</text><text x="1450.6" y="655.3" style="font-size:4px">EACH FACE/EACH SIDE</text><text x="1450.6" y="668.5" style="font-size:4px">NUMBER OF LOCATION</text></g>
<text x="1378.8" y="609.4" style="font-size:6px">6x2x6 #4 4C09 @12" B2</text>
<text x="1324.2" y="700.9" style="font-size:5.5px">[EL. X'-XX"]</text>
<text x="1378" y="700.9" style="font-size:5.5px">DENOTES TOP ELEVATIONS</text>

<!-- ===== SECTIONS ===== -->
<rect x="149" y="764" width="93" height="93" class="l"/>
<g class="m"><rect x="158" y="771" width="77" height="79" rx="3"/><path d="M196,771V850 M158,808H235 M228,775L233,770"/></g>
<path class="l" d="M186,736H207 M186,733V739 M207,733V739"/><text x="187" y="735" class="s">2'-0"</text>
<path class="l" d="M140,775H158 M140,791H158 M140,826H196 M242,796H255"/>
<text x="139" y="776" class="s" text-anchor="end">8A05  VERT</text><text x="139" y="792" class="s" text-anchor="end">4A02 @12" TIES</text><text x="139" y="827" class="s" text-anchor="end">4A05 @12" LINKS ES</text>
<text x="256" y="794" class="s">0'-2"</text><path class="l" d="M256,795.5H270"/><text x="256" y="799.5" class="s">CLR(TYP)</text>
<rect x="373.7" y="709.1" width="111.1" height="147.4" class="l"/>
<g class="m"><rect x="380.4" y="715.9" width="97.4" height="133.8" rx="3"/><rect x="411.4" y="715.9" width="35.4" height="133.8" rx="3"/><rect x="380.4" y="746.7" width="97.4" height="38.1" rx="3"/><rect x="380.4" y="784.8" width="97.4" height="33.9" rx="3"/><path d="M433,736L438,724 M467,736L472,724 M467,762L472,750 M381,780L387,770"/></g>
<path class="l" d="M364,718H380 M364,733H380 M364,759H411 M364,801H397V785 M364,834H397V819 M478,735H486 M488,736H500"/>
<text x="363" y="719.5" class="s" text-anchor="end">7A01  VERT</text><text x="363" y="734.5" class="s" text-anchor="end">4A09 @12" TIES</text><text x="363" y="760.5" class="s" text-anchor="end">4A10 @12" INNER TIES</text><text x="363" y="802.5" class="s" text-anchor="end">4A12 @12" LINKS</text><text x="363" y="835.5" class="s" text-anchor="end">4A11 @12" INNER TIES</text>
<text x="495" y="734" class="s">0'-2"</text><path class="l" d="M493,735.5H507"/><text x="493" y="739.5" class="s">CLR(TYP)</text>
<rect x="616.2" y="745.8" width="111.3" height="110.7" class="l"/>
<g class="m"><rect x="623.4" y="752.7" width="97" height="97" rx="3"/><rect x="654.1" y="752.7" width="35.3" height="97" rx="3"/><rect x="623.4" y="783.6" width="97" height="35.3" rx="3"/><path d="M672,772L677,760 M703,772L708,760 M627,790L633,802"/></g>
<path class="l" d="M610,755.5H623 M610,773.3H623 M610,803H654 M635,803V818 M727,776H740"/>
<text x="608" y="757" class="s" text-anchor="end">7A13  VERT</text><text x="608" y="775" class="s" text-anchor="end">4A14 @10" TIES</text><text x="608" y="804.5" class="s" text-anchor="end">4A15 @10" INNER TIES ES</text>
<text x="738" y="774" class="s">0'-2"</text><path class="l" d="M736,775.5H750"/><text x="736" y="779.5" class="s">CLR(TYP)</text>
<rect x="847" y="783" width="72" height="74" class="l"/>
<g class="m"><rect x="853" y="789" width="60" height="62" rx="3"/><path d="M883,789V851 M853,820H883 M905,797L910,789"/></g>
<path class="l" d="M840,792H853 M840,808H853 M840,834H883 M919,808H931"/>
<text x="838" y="793.5" class="s" text-anchor="end">#8  VERT</text><text x="838" y="809.5" class="s" text-anchor="end">4A16 @12" TIES</text><text x="838" y="835.5" class="s" text-anchor="end">4A17 @12" LINKS ES</text>
<text x="930" y="806" class="s">0'-2"</text><path class="l" d="M928,807.5H942"/><text x="928" y="811.5" class="s">CLR(TYP)</text>
<rect x="148" y="935" width="94" height="93" class="l"/>
<g class="m"><rect x="155" y="941" width="81" height="81" rx="3"/><rect x="172" y="941" width="47" height="81" rx="3"/><rect x="155" y="961" width="81" height="40" rx="3"/><path d="M178,955L183,946 M201,955L206,946 M225,955L230,946 M156,975L162,968"/></g>
<path class="l" d="M141,944H155 M141,960H155 M141,983H172 M242,965H255"/>
<text x="140" y="945.5" class="s" text-anchor="end">6A19  VERT</text><text x="140" y="961.5" class="s" text-anchor="end">4A02 @12" TIES</text><text x="140" y="984.5" class="s" text-anchor="end">4A20 @12" INNER TIES ES</text>
<text x="254" y="962" class="s">0'-2"</text><path class="l" d="M252,963.5H266"/><text x="252" y="967.5" class="s">CLR(TYP)</text>
<circle cx="431" cy="982" r="55" class="l"/><circle cx="431" cy="982" r="50" class="m"/>
<path class="l" d="M376,944H394 M376,1011H382 M486,985H498"/>
<text x="375" y="945.5" class="s" text-anchor="end">#7  VERT</text><text x="375" y="1012.5" class="s" text-anchor="end">4A21 @10" TIES</text>
<text x="487" y="981" class="s">0'-2"</text><path class="l" d="M485,982.5H499"/><text x="485" y="986.5" class="s">CLR(TYP)</text>
<rect x="616" y="935" width="111" height="93" class="l"/>
<g class="m"><rect x="623" y="941" width="97" height="81" rx="3"/><rect x="639" y="941" width="32" height="81" rx="3"/><rect x="671" y="941" width="32" height="81" rx="3"/><rect x="623" y="941" width="97" height="40" rx="3"/><path d="M654,955L659,945 M680,958L686,945 M698,958L704,945 M624,975L630,965"/></g>
<path class="l" d="M607,944H623 M607,957H623 M607,970H639 M607,995H637V982 M607,1008H671 M727,960H740"/>
<text x="606" y="945.5" class="s" text-anchor="end">6A19  VERT</text><text x="606" y="958.5" class="s" text-anchor="end">4A22 @12" TIES</text><text x="606" y="971.5" class="s" text-anchor="end">4A23 @12" INNER TIES</text><text x="606" y="996.5" class="s" text-anchor="end">4A12 @12" LINKS</text><text x="606" y="1009.5" class="s" text-anchor="end">4A05 @12" LINKS</text>
<text x="738" y="957" class="s">0'-2"</text><path class="l" d="M736,958.5H750"/><text x="736" y="962.5" class="s">CLR(TYP)</text>
<rect x="828" y="935" width="112" height="93" class="l"/>
<rect x="836" y="942" width="96" height="81" rx="3" class="m"/>
<ellipse cx="884" cy="982" rx="47" ry="50" class="d"/><ellipse cx="884" cy="982" rx="38" ry="42" class="d"/>
<g fill="#333"><circle cx="840" cy="946" r="1.3"/><circle cx="857" cy="946" r="1.3"/><circle cx="880" cy="946" r="1.3"/><circle cx="906" cy="946" r="1.3"/><circle cx="929" cy="946" r="1.3"/><circle cx="840" cy="1019" r="1.3"/><circle cx="857" cy="1019" r="1.3"/><circle cx="880" cy="1019" r="1.3"/><circle cx="906" cy="1019" r="1.3"/><circle cx="929" cy="1019" r="1.3"/><circle cx="838" cy="982" r="1.3"/><circle cx="930" cy="982" r="1.3"/></g>
<g class="l"><circle cx="860" cy="956" r="1.2"/><circle cx="907" cy="956" r="1.2"/><circle cx="848" cy="966" r="1.2"/><circle cx="920" cy="966" r="1.2"/><circle cx="845" cy="982" r="1.2"/><circle cx="924" cy="982" r="1.2"/><circle cx="848" cy="1000" r="1.2"/><circle cx="920" cy="1000" r="1.2"/><circle cx="860" cy="1009" r="1.2"/><circle cx="907" cy="1009" r="1.2"/></g>
<rect x="957" y="943" width="20" height="18" class="l"/><circle cx="967" cy="952" r="2.2" fill="#222"/>
<rect x="957" y="973" width="20" height="18" class="l"/><circle cx="967" cy="982" r="2.2" class="l"/>
<rect x="957" y="1003" width="20" height="18" class="l"/><circle cx="967" cy="1012" r="2.2" class="l"/><path class="l" d="M966,1014L968,1010"/>
<path class="l" d="M977,952H995 M977,982H995 M977,1012H995"/>
<text x="997" y="953.5" class="s">ABOVE COLUMN VERTICAL</text><text x="997" y="983.5" class="s">BELOW COLUMN VERTICAL</text><text x="997" y="1013.5" class="s">DOWEL COMING FROM 2nd FLOOR SLAB</text>

<g>
<text x="173" y="879" class="tt">SECTION</text><path class="l" d="M172,882H220"/><text x="174" y="888" class="st">SCALE: 1" = 1'-0"</text><circle cx="226" cy="882" r="6" class="l"/><text x="224" y="885" class="n">1</text>
<text x="405" y="879" class="tt">SECTION</text><path class="l" d="M404,882H452"/><text x="406" y="888" class="st">SCALE: 1" = 1'-0"</text><circle cx="458" cy="882" r="6" class="l"/><text x="456" y="885" class="n">2</text>
<text x="650" y="879" class="tt">SECTION</text><path class="l" d="M649,882H697"/><text x="651" y="888" class="st">SCALE: 1" = 1'-0"</text><circle cx="703" cy="882" r="6" class="l"/><text x="701" y="885" class="n">3</text>
<text x="862" y="879" class="tt">SECTION</text><path class="l" d="M861,882H909"/><text x="863" y="888" class="st">SCALE: 1" = 1'-0"</text><circle cx="915" cy="882" r="6" class="l"/><text x="913" y="885" class="n">4</text>
<text x="173" y="1050" class="tt">SECTION</text><path class="l" d="M172,1053H220"/><text x="174" y="1059" class="st">SCALE: 1" = 1'-0"</text><circle cx="226" cy="1053" r="6" class="l"/><text x="224" y="1056" class="n">5</text>
<text x="405" y="1050" class="tt">SECTION</text><path class="l" d="M404,1053H452"/><text x="406" y="1059" class="st">SCALE: 1" = 1'-0"</text><circle cx="458" cy="1053" r="6" class="l"/><text x="456" y="1056" class="n">6</text>
<text x="650" y="1050" class="tt">SECTION</text><path class="l" d="M649,1053H697"/><text x="651" y="1059" class="st">SCALE: 1" = 1'-0"</text><circle cx="703" cy="1053" r="6" class="l"/><text x="701" y="1056" class="n">7</text>
<text x="862" y="1050" class="tt">SECTION</text><path class="l" d="M861,1053H909"/><text x="863" y="1059" class="st">SCALE: 1" = 1'-0"</text><circle cx="915" cy="1053" r="6" class="l"/><text x="913" y="1056" class="n">8</text>
</g>
</svg>
</body></html>
